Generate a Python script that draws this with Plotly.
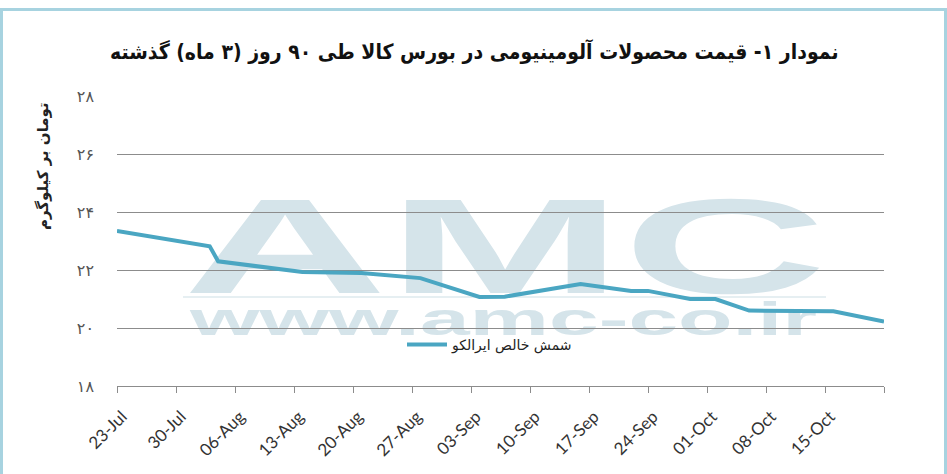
import base64
import plotly.graph_objects as go

# ---- data ----
dates = ["2018-07-23", "2018-08-03", "2018-08-04", "2018-08-11", "2018-08-14",
         "2018-08-21", "2018-08-28", "2018-09-04", "2018-09-07", "2018-09-16",
         "2018-09-22", "2018-09-24", "2018-09-29", "2018-10-02", "2018-10-06",
         "2018-10-16", "2018-10-22"]
prices = [23.35, 22.82, 22.30, 22.03, 21.93,
          21.90, 21.72, 21.07, 21.08, 21.52,
          21.28, 21.28, 21.00, 21.00, 20.60,
          20.58, 20.22]
series_name = "شمش خالص ایرالکو"
x_tick_vals = ["2018-07-23", "2018-07-30", "2018-08-06", "2018-08-13", "2018-08-20",
               "2018-08-27", "2018-09-03", "2018-09-10", "2018-09-17", "2018-09-24",
               "2018-10-01", "2018-10-08", "2018-10-15"]
x_tick_text = ["23-Jul", "30-Jul", "06-Aug", "13-Aug", "20-Aug", "27-Aug", "03-Sep",
               "10-Sep", "17-Sep", "24-Sep", "01-Oct", "08-Oct", "15-Oct"]
y_tick_vals = [18, 20, 22, 24, 26, 28]
y_tick_text = ["۱۸", "۲۰", "۲۲", "۲۴", "۲۶", "۲۸"]
title_text = "نمودار ۱- قیمت محصولات آلومینیومی در بورس کالا طی ۹۰ روز (۳ ماه) گذشته"
y_title = "تومان بر کیلوگرم"

W, H = 947, 474
L, R, T, B = 117, 63, 96, 88
pw, ph = W - L - R, H - T - B

# watermark as background svg
wm = "#d5e4ea"
svg = f'''<svg xmlns="http://www.w3.org/2000/svg" width="{W}" height="{H}" viewBox="0 0 {W} {H}">
<text x="183" y="285" font-family="Liberation Sans, DejaVu Sans" font-weight="bold" font-size="135"
 textLength="644" lengthAdjust="spacingAndGlyphs" fill="{wm}">AMC</text>
<line x1="183" y1="289" x2="826" y2="289" stroke="#e6eff2" stroke-width="2"/>
<text x="190" y="327" font-family="Liberation Sans, DejaVu Sans" font-weight="bold" font-size="46"
 textLength="627" lengthAdjust="spacingAndGlyphs" fill="{wm}">www.amc-co.ir</text>
</svg>'''
src = "data:image/svg+xml;base64," + base64.b64encode(svg.encode("utf-8")).decode()

fig = go.Figure()
fig.add_trace(go.Scatter(x=dates, y=prices, mode="lines", name=series_name,
                         line=dict(color="#4aa6c2", width=4), showlegend=True))

grid = "#8c8c8c"
fig.update_layout(
    template="none",
    width=W, height=H,
    margin=dict(l=L, r=R, t=T, b=B, pad=0),
    paper_bgcolor="white", plot_bgcolor="rgba(0,0,0,0)",
    showlegend=True,
    legend=dict(x=(402 - L) / pw, y=(T + ph - 345) / ph, xanchor="left", yanchor="middle",
                bgcolor="rgba(0,0,0,0)", font=dict(family="DejaVu Sans", size=14, color="#222"),
                itemwidth=40),
    font=dict(family="DejaVu Sans", color="#222"),
    images=[dict(source=src, xref="paper", yref="paper", x=-L / pw, y=(ph + B) / ph,
                 sizex=W / pw, sizey=H / ph, sizing="stretch", layer="below",
                 xanchor="left", yanchor="top")],
    shapes=[dict(type="rect", xref="paper", yref="paper",
                 x0=(1.5 - L) / pw, x1=(W - 1.5 - L) / pw,
                 y0=(ph + B - (H - 1.5)) / ph, y1=(ph + B - 1.5) / ph,
                 line=dict(color="#a7d3e0", width=3), fillcolor="rgba(0,0,0,0)", layer="above")],
    annotations=[
        dict(text="<b>" + title_text + "</b>", xref="paper", yref="paper",
             x=(474 - L) / pw, y=(ph + B - 44) / ph, xanchor="center", yanchor="middle",
             showarrow=False, font=dict(family="DejaVu Sans Condensed, DejaVu Sans", size=21, color="#111")),
        dict(text="<b>" + y_title + "</b>", xref="paper", yref="paper", textangle=-90,
             x=(43 - L) / pw, y=(ph + B - 158) / ph, xanchor="center", yanchor="middle",
             showarrow=False, font=dict(family="DejaVu Sans", size=15, color="#222")),
    ],
)
fig.update_xaxes(
    type="date", range=["2018-07-23", "2018-10-22"], automargin=False,
    tickmode="array", tickvals=x_tick_vals, ticktext=x_tick_text, tickangle=-45,
    ticks="outside", ticklen=6, tickcolor=grid, tickwidth=1,
    ticklabelstandoff=7, ticklabelshift=5,
    minor=dict(ticks="outside", ticklen=6, tickcolor=grid, dtick=7 * 86400000,
               tick0="2018-07-23", showgrid=False),
    showline=True, linecolor=grid, linewidth=1, showgrid=False, zeroline=False,
    tickfont=dict(family="Lato, Open Sans", size=17, color="#333"),
)
fig.update_yaxes(
    range=[18, 28], automargin=False, tickmode="array", tickvals=y_tick_vals, ticktext=y_tick_text,
    showgrid=True, gridcolor=grid, gridwidth=1, zeroline=False, showline=False, ticks="",
    ticklabelstandoff=22,
    tickfont=dict(family="DejaVu Sans", size=16, color="#555"),
)
fig.write_html("out.html", config={"displayModeBar": False},
               post_script="document.body.style.margin='0';document.body.style.padding='0';")
